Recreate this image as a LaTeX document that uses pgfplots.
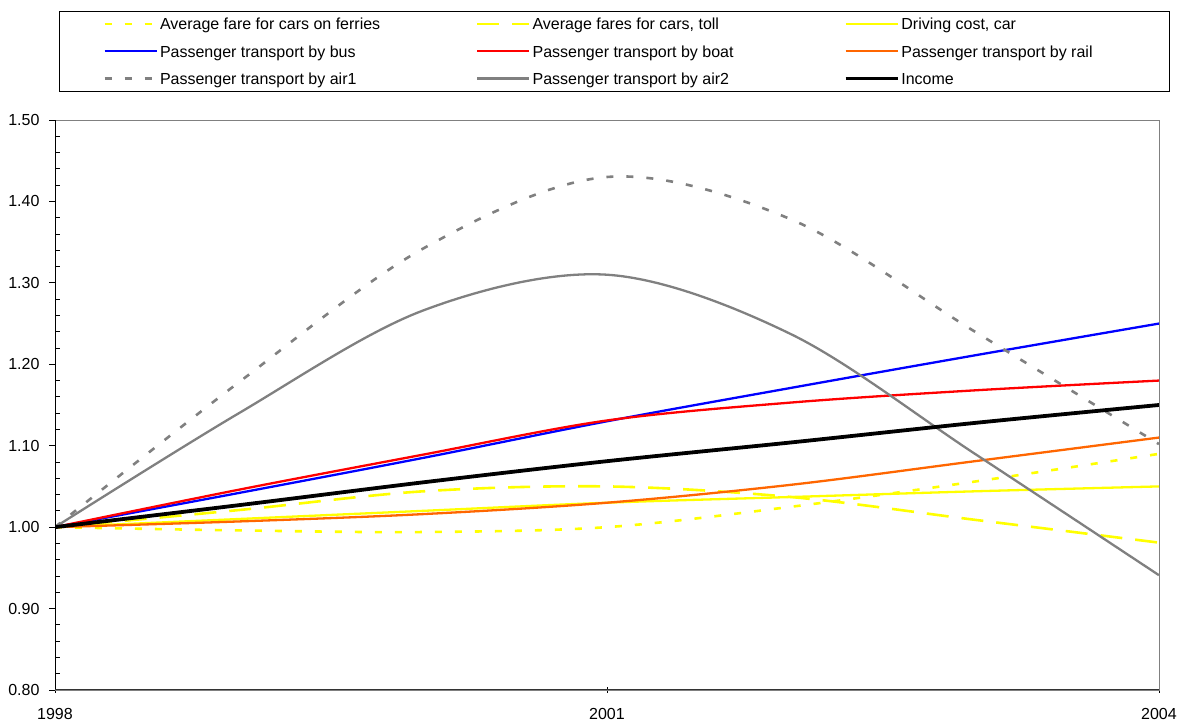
\documentclass[border=0pt]{standalone}
\usepackage{fontspec}
\setmainfont{Liberation Sans}
\usepackage{pgfplots}
\pgfplotsset{compat=1.18}
\definecolor{xlyellow}{RGB}{255,255,0}
\definecolor{xlorange}{RGB}{255,102,0}
\definecolor{xlgray}{RGB}{128,128,128}
\definecolor{xlblue}{RGB}{0,0,255}
\definecolor{xlred}{RGB}{255,0,0}

\pgfplotstableread{
year ferries toll  driving bus   boat  rail  airone airtwo income
1998 1.000   1.000 1.000   1.000 1.000 1.000 1.000  1.000  1.000
1999 0.996   1.021 1.010   1.042 1.046 1.007 1.178  1.140  1.027
2000 0.994   1.044 1.020   1.085 1.089 1.016 1.342  1.266  1.055
2001 1.000   1.050 1.030   1.130 1.131 1.030 1.430  1.310  1.081
2002 1.025   1.037 1.037   1.171 1.153 1.052 1.378  1.237  1.104
2003 1.056   1.009 1.044   1.211 1.168 1.081 1.240  1.090  1.128
2004 1.090   0.981 1.050   1.250 1.180 1.110 1.102  0.941  1.150
}\datatable

\begin{document}
\fontsize{16bp}{19bp}\selectfont
\begin{tikzpicture}
\useasboundingbox (0,0) rectangle (1184bp,722bp);
\begin{axis}[
  at={(55bp,32bp)}, anchor=south west,
  width=1104bp, height=570bp, scale only axis,
  xmin=1998, xmax=2004, ymin=0.8, ymax=1.5,
  xtick={1998,2001,2004}, xticklabels={1998,2001,2004},
  ytick={0.8,0.9,1.0,1.1,1.2,1.3,1.4,1.5},
  minor y tick num=4,
  xtick pos=bottom, ytick pos=left,
  /pgf/number format/assume math mode=true,
  yticklabel style={/pgf/number format/fixed,/pgf/number format/precision=2,/pgf/number format/fixed zerofill, xshift=-4bp},
  xticklabel style={yshift=-7bp},
  tick label style={font=\fontsize{16bp}{19bp}\selectfont},
  tick align=outside,
  major tick length=6bp,
  minor tick length=-5bp,
  xtick style={yshift=3bp},
  tick style={black, line width=0.8bp},
  axis line style={draw=xlgray, line width=0.9bp},
  every axis plot/.append style={smooth, tension=0.55},
  legend columns=3,
  legend cell align=left,
  legend image code/.code={\draw[#1] (0bp,0bp) -- (52bp,0bp);},
  legend style={at={(axis description cs:0,1)}, anchor=north west,
    xshift=4bp, yshift=109bp, draw=black, line width=0.8bp,
    inner xsep=44bp, inner ysep=6.5bp, column sep=0bp, row sep=15.3bp,
    font=\fontsize{16bp}{19bp}\selectfont,
    nodes={inner xsep=2bp, inner ysep=0bp, text height=12bp, text depth=0bp}},
]
\addplot[xlyellow, line width=2.6bp, dash pattern=on 7bp off 13bp] table[x=year,y=ferries]{\datatable};
\addlegendentry{\makebox[314bp][l]{Average fare for cars on ferries}}
\addplot[xlyellow, line width=2.6bp, dash pattern=on 22bp off 13bp] table[x=year,y=toll]{\datatable};
\addlegendentry{\makebox[309bp][l]{Average fares for cars, toll}}
\addplot[xlyellow, line width=2.3bp] table[x=year,y=driving]{\datatable};
\addlegendentry{\makebox[222bp][l]{Driving cost, car}}
\addplot[xlblue, line width=2.3bp] table[x=year,y=bus]{\datatable};
\addlegendentry{\makebox[314bp][l]{Passenger transport by bus}}
\addplot[xlred, line width=2.3bp] table[x=year,y=boat]{\datatable};
\addlegendentry{\makebox[309bp][l]{Passenger transport by boat}}
\addplot[xlorange, line width=2.3bp] table[x=year,y=rail]{\datatable};
\addlegendentry{\makebox[222bp][l]{Passenger transport by rail}}
\addplot[xlgray, line width=2.6bp, dash pattern=on 7bp off 13bp] table[x=year,y=airone]{\datatable};
\addlegendentry{\makebox[314bp][l]{Passenger transport by air1}}
\addplot[xlgray, line width=2.3bp] table[x=year,y=airtwo]{\datatable};
\addlegendentry{\makebox[309bp][l]{Passenger transport by air2}}
\addplot[black, line width=3.8bp] table[x=year,y=income]{\datatable};
\addlegendentry{\makebox[222bp][l]{Income}}
\draw[black, line width=1bp] (rel axis cs:0,0) -- (rel axis cs:0,1);
\draw[black!80, line width=1bp] (rel axis cs:0,0) -- (rel axis cs:1,0);
\end{axis}
\end{tikzpicture}
\end{document}
